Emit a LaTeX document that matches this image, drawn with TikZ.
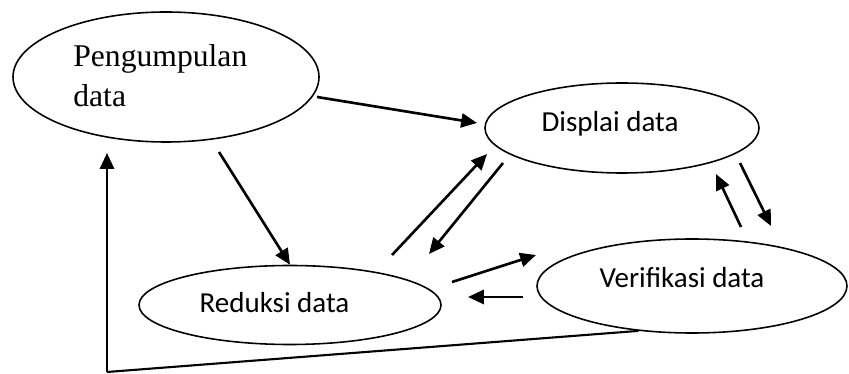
\documentclass[tikz,border=0pt]{standalone}
\usepackage{fontspec}
\setmainfont{Liberation Serif}
\newfontfamily\calibri{Carlito}
\usetikzlibrary{arrows.meta}
\usetikzlibrary{shapes.geometric}
\usetikzlibrary{positioning}

\tikzset{
  blob/.style={draw, ellipse, line width=0.9pt, inner sep=0pt},
  blobtext/.style={font=\calibri\fontsize{16.5}{20}\selectfont, inner sep=0pt},
  flow/.style={line width=1.5pt, -{Triangle[length=9pt, width=8pt]}}
}

\begin{document}
\begin{tikzpicture}
          \useasboundingbox (0, 0) rectangle (16.98, 7.48);

          % the four stages
          \node [blob, minimum width=6.12cm, minimum height=2.60cm] (peng) at (3.32, 5.94) {};
          \node [blob, minimum width=5.48cm, minimum height=1.80cm] (displ) at (12.44, 4.92) {};
          \node [blob, minimum width=6.04cm, minimum height=1.58cm] (redu) at (5.80, 1.38) {};
          \node [blob, minimum width=6.20cm, minimum height=1.88cm] (veri) at (13.84, 1.76) {};

          % base of a two-line node sits on its last line
          \node [anchor=base west, align=left, inner sep=0pt, font=\fontsize{18}{22.8}\selectfont] (pengtext) at (1.46, 5.34) {Pengumpulan\\data};
          \node [blobtext, anchor=base] (displtext) at (12.20, 4.84) {Displai data};
          \node [blobtext, anchor=base] (redutext) at (5.49, 1.22) {Reduksi data};
          \node [blobtext, anchor=base] (veritext) at (13.64, 1.72) {Verifikasi data};

          % loose arrow ends
          \coordinate (pd1) at (6.34, 5.54);
          \coordinate (pd2) at (9.54, 5.02);
          \coordinate (pr1) at (4.38, 4.44);
          \coordinate (rd1) at (7.84, 2.38);
          \coordinate (rd2) at (9.74, 4.40);
          \coordinate (dr1) at (10.06, 4.22);
          \coordinate (dr2) at (8.58, 2.40);
          \coordinate (rv1) at (9.04, 1.84);
          \coordinate (rv2) at (10.72, 2.38);
          \coordinate (vr1) at (10.46, 1.54);
          \coordinate (vr2) at (9.36, 1.54);
          \coordinate (vd1) at (14.82, 2.94);
          \coordinate (vd2) at (14.32, 4.00);
          \coordinate (dv1) at (14.80, 4.22);
          \coordinate (dv2) at (15.42, 2.96);
          \coordinate (corner) at (2.14, 0.04);
          \coordinate (back) at (2.14, 4.42);

          \draw [flow] (pd1) -- (pd2);
          \draw [flow] (pr1) -- (redu.north);
          \draw [flow] (rd1) -- (rd2);
          \draw [flow] (dr1) -- (dr2);
          \draw [flow] (rv1) -- (rv2);
          \draw [flow] (vr1) -- (vr2);
          \draw [flow] (vd1) -- (vd2);
          \draw [flow] (dv1) -- (dv2);

          % feedback back to the start
          \draw [line width=1.2pt] (veri.220) -- (corner);
          \draw [flow] (corner) -- (back);
        \end{tikzpicture}
\end{document}
